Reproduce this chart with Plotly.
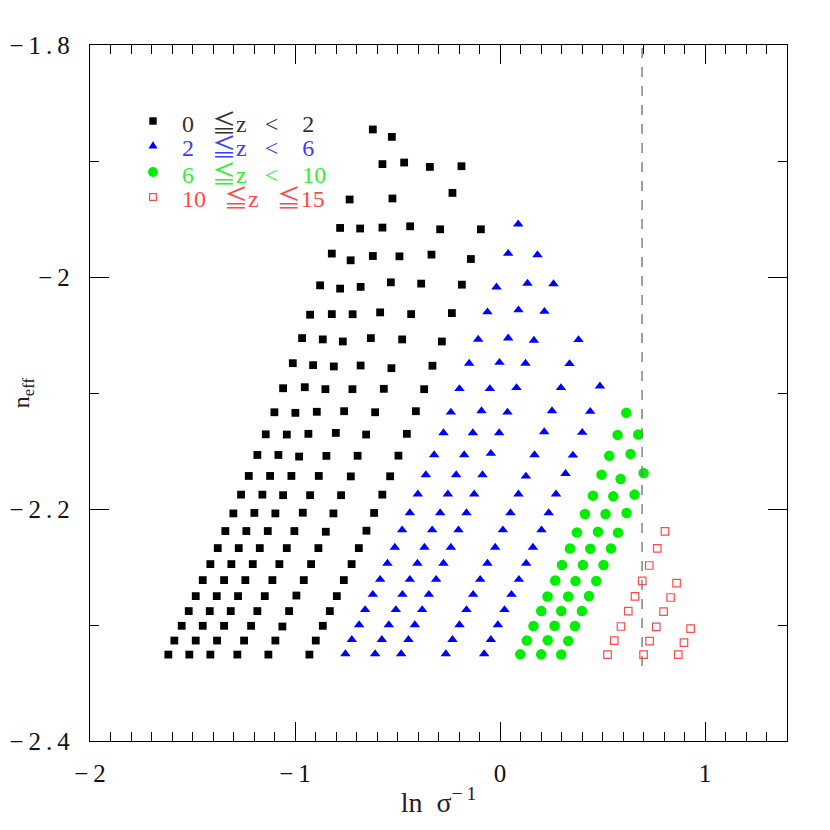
import plotly.graph_objects as go

# ---------------- data ----------------
# 0 <= z < 2  (filled black squares)
bk_x = [-0.6204, -0.5276,
        -0.5735, -0.4676, -0.3422, -0.1880,
        -0.7336, -0.5247, -0.2319,
        -0.7799, -0.6823, -0.5735, -0.4383, -0.2919, -0.0933,
        -0.8204, -0.7286, -0.6204, -0.4905, -0.3343, -0.1420,
        -0.8775, -0.7799, -0.6799, -0.5325, -0.3846, -0.1860,
        -0.9263, -0.8204, -0.7189, -0.5847, -0.4334, -0.2348,
        -0.9654, -0.8644, -0.7668, -0.6301, -0.4773, -0.2836,
        -1.0108, -0.9117, -0.8107, -0.6799, -0.5296, -0.3294,
        -1.0581, -0.9522, -0.8517, -0.7199, -0.5667, -0.3699,
        -1.1005, -0.9981, -0.8936, -0.7604, -0.6091, -0.4104,
        -1.1426, -1.0400, -0.9347, -0.8009, -0.6530, -0.4544,
        -1.1836, -1.0810, -0.9800, -0.8468, -0.6946, -0.4954,
        -1.2255, -1.1215, -1.0176, -0.8839, -0.7277, -0.5359,
        -1.2631, -1.1591, -1.0581, -0.9263, -0.7751, -0.5740,
        -1.3007, -1.1982, -1.0957, -0.9620, -0.8126, -0.6140,
        -1.3397, -1.2373, -1.1328, -1.0030, -0.8497, -0.6515,
        -1.3768, -1.2744, -1.1718, -1.0400, -0.8858, -0.6886,
        -1.4129, -1.3105, -1.2060, -1.0762, -0.9215, -0.7238,
        -1.4500, -1.3460, -1.2421, -1.1103, -0.9571, -0.7618,
        -1.4842, -1.3817, -1.2778, -1.1474, -0.9932, -0.7960,
        -1.5184, -1.4158, -1.3134, -1.1836, -1.0289, -0.8302,
        -1.5526, -1.4500, -1.3460, -1.2142, -1.0615, -0.8644,
        -1.5886, -1.4842, -1.3802, -1.2484, -1.0957, -0.8986,
        -1.6179, -1.5155, -1.4129, -1.2812, -1.1299, -0.9297]
bk_y = [-1.8728, -1.8792,
        -1.9027, -1.9013, -1.9051, -1.9045,
        -1.9332, -1.9323, -1.9275,
        -1.9577, -1.9582, -1.9574, -1.9563, -1.9589, -1.9589,
        -1.9798, -1.9856, -1.9819, -1.9822, -1.9807, -1.9845,
        -2.0072, -2.0100, -2.0085, -2.0046, -2.0057, -2.0066,
        -2.0325, -2.0320, -2.0321, -2.0305, -2.0320, -2.0311,
        -2.0527, -2.0538, -2.0556, -2.0527, -2.0538, -2.0556,
        -2.0743, -2.0760, -2.0771, -2.0763, -2.0786, -2.0765,
        -2.0959, -2.0950, -2.0967, -2.0967, -2.0964, -2.0967,
        -2.1166, -2.1171, -2.1162, -2.1157, -2.1166, -2.1157,
        -2.1356, -2.1358, -2.1352, -2.1344, -2.1358, -2.1352,
        -2.1534, -2.1534, -2.1548, -2.1542, -2.1541, -2.1540,
        -2.1715, -2.1715, -2.1715, -2.1715, -2.1719, -2.1718,
        -2.1876, -2.1876, -2.1881, -2.1881, -2.1881, -2.1876,
        -2.2038, -2.2034, -2.2038, -2.2032, -2.2038, -2.2034,
        -2.2190, -2.2190, -2.2190, -2.2190, -2.2196, -2.2187,
        -2.2337, -2.2337, -2.2337, -2.2337, -2.2337, -2.2337,
        -2.2475, -2.2475, -2.2475, -2.2475, -2.2475, -2.2475,
        -2.2613, -2.2613, -2.2613, -2.2613, -2.2613, -2.2613,
        -2.2751, -2.2751, -2.2751, -2.2751, -2.2746, -2.2751,
        -2.2880, -2.2880, -2.2880, -2.2880, -2.2880, -2.2880,
        -2.3007, -2.3007, -2.3007, -2.3007, -2.3013, -2.3007,
        -2.3134, -2.3134, -2.3134, -2.3134, -2.3134, -2.3134,
        -2.3255, -2.3255, -2.3255, -2.3255, -2.3255, -2.3255]

# 2 <= z < 6  (filled blue triangles)
bl_x = [0.0888,
        0.0400, 0.1830,
        -0.0171, 0.1342, 0.2610,
        -0.0611, 0.0902, 0.2167,
        -0.1064, 0.0400, 0.1654, 0.3831,
        -0.1504, -0.0025, 0.1244, 0.3392,
        -0.1977, -0.0493, 0.0805, 0.2972, 0.4875,
        -0.2396, -0.0903, 0.0365, 0.2537, 0.4402,
        -0.2758, -0.1323, -0.0040, 0.2157, 0.4011,
        -0.3212, -0.1748, -0.0445, 0.1683, 0.3557,
        -0.3617, -0.2138, -0.0854, 0.1263, 0.3197,
        -0.4007, -0.2543, -0.1259, 0.0902, 0.2733,
        -0.4398, -0.2919, -0.1635, 0.0512, 0.2376,
        -0.4773, -0.3309, -0.2025, 0.0141, 0.2025,
        -0.5130, -0.3685, -0.2396, -0.0235, 0.1605,
        -0.5491, -0.4027, -0.2758, -0.0611, 0.1278,
        -0.5847, -0.4398, -0.3114, -0.0967, 0.0922,
        -0.6204, -0.4759, -0.3470, -0.1309, 0.0560,
        -0.6579, -0.5081, -0.3797, -0.1635, 0.0220,
        -0.6872, -0.5423, -0.4154, -0.1977, -0.0103,
        -0.7228, -0.5764, -0.4466, -0.2319, -0.0445,
        -0.7541, -0.6091, -0.4822, -0.2641, -0.0772]
bl_y = [-1.9545,
        -1.9798, -1.9810,
        -2.0087, -2.0055, -2.0059,
        -2.0302, -2.0285, -2.0298,
        -2.0538, -2.0527, -2.0547, -2.0541,
        -2.0745, -2.0737, -2.0745, -2.0748,
        -2.0964, -2.0964, -2.0955, -2.0955, -2.0941,
        -2.1166, -2.1154, -2.1166, -2.1154, -2.1160,
        -2.1344, -2.1344, -2.1344, -2.1335, -2.1341,
        -2.1534, -2.1534, -2.1522, -2.1534, -2.1537,
        -2.1706, -2.1706, -2.1706, -2.1718, -2.1695,
        -2.1872, -2.1872, -2.1872, -2.1872, -2.1872,
        -2.2034, -2.2034, -2.2034, -2.2034, -2.2034,
        -2.2181, -2.2181, -2.2181, -2.2181, -2.2181,
        -2.2331, -2.2331, -2.2331, -2.2331, -2.2331,
        -2.2469, -2.2469, -2.2469, -2.2469, -2.2469,
        -2.2608, -2.2608, -2.2608, -2.2608, -2.2608,
        -2.2737, -2.2737, -2.2737, -2.2737, -2.2737,
        -2.2869, -2.2869, -2.2869, -2.2869, -2.2869,
        -2.2999, -2.2999, -2.2999, -2.2999, -2.2999,
        -2.3126, -2.3126, -2.3126, -2.3126, -2.3126,
        -2.3249, -2.3249, -2.3249, -2.3249, -2.3249]

# 6 <= z < 10  (filled green circles)
gr_x = [0.6158,
        0.5734, 0.6744,
        0.5329, 0.6368,
        0.4953, 0.5881, 0.7003,
        0.4534, 0.5524, 0.6563,
        0.4144, 0.5149, 0.6173,
        0.3752, 0.4778, 0.5754,
        0.3411, 0.4402, 0.5412,
        0.3021, 0.4045, 0.5050,
        0.2694, 0.3684, 0.4695,
        0.2318, 0.3328, 0.4339,
        0.2010, 0.2986, 0.3997,
        0.1634, 0.2660, 0.3655,
        0.1312, 0.2328, 0.3328,
        0.0986, 0.2010, 0.2986]
gr_y = [-2.1171,
        -2.1361, -2.1358,
        -2.1542, -2.1525,
        -2.1704, -2.1741, -2.1689,
        -2.1885, -2.1891, -2.1876,
        -2.2043, -2.2043, -2.2034,
        -2.2202, -2.2196, -2.2204,
        -2.2340, -2.2343, -2.2340,
        -2.2483, -2.2483, -2.2483,
        -2.2616, -2.2621, -2.2621,
        -2.2754, -2.2754, -2.2751,
        -2.2880, -2.2880, -2.2880,
        -2.3009, -2.3007, -2.3009,
        -2.3134, -2.3132, -2.3137,
        -2.3253, -2.3253, -2.3255]

# 10 <= z <= 15  (open red squares)
rd_x = [0.8047, 0.7671, 0.7281, 0.6939, 0.8613, 0.6584, 0.8321, 0.6257, 0.7979,
        0.5900, 0.7623, 0.9297, 0.5573, 0.7295, 0.8974, 0.5246, 0.7003, 0.8697]
rd_y = [-2.2193, -2.2340, -2.2487, -2.2619, -2.2639, -2.2754, -2.2763, -2.2880, -2.2884,
        -2.3013, -2.3016, -2.3031, -2.3134, -2.3139, -2.3152, -2.3255, -2.3255, -2.3255]

# dashed reference line  (ln 2)
vline_x = 0.693
vline_y = [-2.3353, -1.8]

LE = "<span style=\"font-family:'Noto Sans CJK JP'\">≦</span>"
SP = "\u00a0"
legend_labels = ["0" + SP * 3 + LE + "z" + SP * 3 + "<" + SP * 4 + "2",
                 "2" + SP * 3 + LE + "z" + SP * 3 + "<" + SP * 4 + "6",
                 "6" + SP * 3 + LE + "z" + SP * 3 + "<" + SP * 4 + "10",
                 "10" + SP * 3 + LE + "z" + SP * 3 + LE + "15"]
legend_colors = ["#333333", "#3c3cff", "#30ee30", "#ff4a4a"]

x_ticks = [-2, -1, 0, 1]
x_ticktext = ["\u2212\u20092", "\u2212\u20091", "0", "1"]
y_ticks = [-2.4, -2.2, -2.0, -1.8]
y_ticktext = ["\u2212\u20092\u2009.\u20094", "\u2212\u20092\u2009.\u20092", "\u2212\u20092", "\u2212\u20091\u2009.\u20098"]

FONT = "Liberation Serif"

fig = go.Figure()
fig.add_trace(go.Scatter(x=bk_x, y=bk_y, mode="markers", name="0≦z<2",
                         marker=dict(symbol="square", size=7.8, color="black", line=dict(width=0))))
fig.add_trace(go.Scatter(x=bl_x, y=bl_y, mode="markers", name="2≦z<6",
                         marker=dict(symbol="triangle-up", size=9.2, color="#0000ff", line=dict(width=0))))
fig.add_trace(go.Scatter(x=gr_x, y=gr_y, mode="markers", name="6≦z<10",
                         marker=dict(symbol="circle", size=10.5, color="#00ee00", line=dict(width=0))))
fig.add_trace(go.Scatter(x=rd_x, y=rd_y, mode="markers", name="10≦z≦15",
                         marker=dict(symbol="square-open", size=7.5, color="#ff4a4a", line=dict(width=1.2))))

fig.add_shape(type="line", xref="x", yref="y", x0=vline_x, x1=vline_x, y0=vline_y[0], y1=vline_y[1],
              line=dict(color="#7a7a7a", width=1.4, dash="10px,9px"))

# legend (drawn by hand: keys + labels); page body is offset by 8 px
W, H = 830, 830
OFF = 8
L, R, T, B = 82, 51, 37, 97
pw, ph = W - L - R, H - T - B
def px2paper(px, py):
    return (px - OFF - L) / pw, (H - B - (py - OFF)) / ph

row_py = [121, 146, 172, 197]
key_px = 153
text_px = 180
key_shapes = [
    dict(type="rect", x0=-3.7, x1=3.7, y0=-3.7, y1=3.7, fillcolor="black", line=dict(width=0)),
    dict(type="path", path="M -4.6,-2.6 L 4.6,-2.6 L 0,4.8 Z", fillcolor="#0000ff", line=dict(width=0)),
    dict(type="circle", x0=-5, x1=5, y0=-5, y1=5, fillcolor="#00ee00", line=dict(width=0)),
    dict(type="rect", x0=-3.4, x1=3.4, y0=-3.4, y1=3.4, fillcolor="rgba(0,0,0,0)", line=dict(width=1.2, color="#ff4a4a")),
]
for i, (py, lab, col) in enumerate(zip(row_py, legend_labels, legend_colors)):
    kx, ky = px2paper(key_px, py)
    sh = dict(key_shapes[i])
    sh.update(xref="paper", yref="paper", xsizemode="pixel", ysizemode="pixel", xanchor=kx, yanchor=ky)
    fig.add_shape(**sh)
    tx, ty = px2paper(text_px, py)
    fig.add_annotation(x=tx, y=ty, xref="paper", yref="paper", xanchor="left", yanchor="middle",
                       text=lab, showarrow=False, font=dict(family=FONT, size=24, color=col))

axis_common = dict(showline=True, linecolor="black", linewidth=1.3, mirror="allticks",
                   ticks="inside", ticklen=19, tickwidth=1, tickcolor="black",
                   showgrid=False, zeroline=False, automargin=False,
                   tickfont=dict(family=FONT, size=25, color="#111111"))

fig.update_layout(
    width=W, height=H, margin=dict(l=L, r=R, t=T, b=B),
    paper_bgcolor="white", plot_bgcolor="white", showlegend=False,
    xaxis=dict(range=[-2, 1.4], tickvals=x_ticks, ticktext=x_ticktext,
               minor=dict(ticks="inside", ticklen=9, dtick=0.1, tickwidth=1, tickcolor="black"),
               ticklabelstandoff=10,
               title=dict(text="ln\u00a0\u00a0σ<sup>\u2212\u20091</sup>", font=dict(family=FONT, size=28, color="#222"), standoff=6),
               **axis_common),
    yaxis=dict(range=[-2.4, -1.8], tickvals=y_ticks, ticktext=y_ticktext,
               minor=dict(ticks="inside", ticklen=9, dtick=0.1, tickwidth=1, tickcolor="black"),
               ticklabelstandoff=14,
               title=dict(text="n<sub>eff</sub>", font=dict(family=FONT, size=24, color="#222"), standoff=12),
               **axis_common),
)

fig.write_html("out.html")
